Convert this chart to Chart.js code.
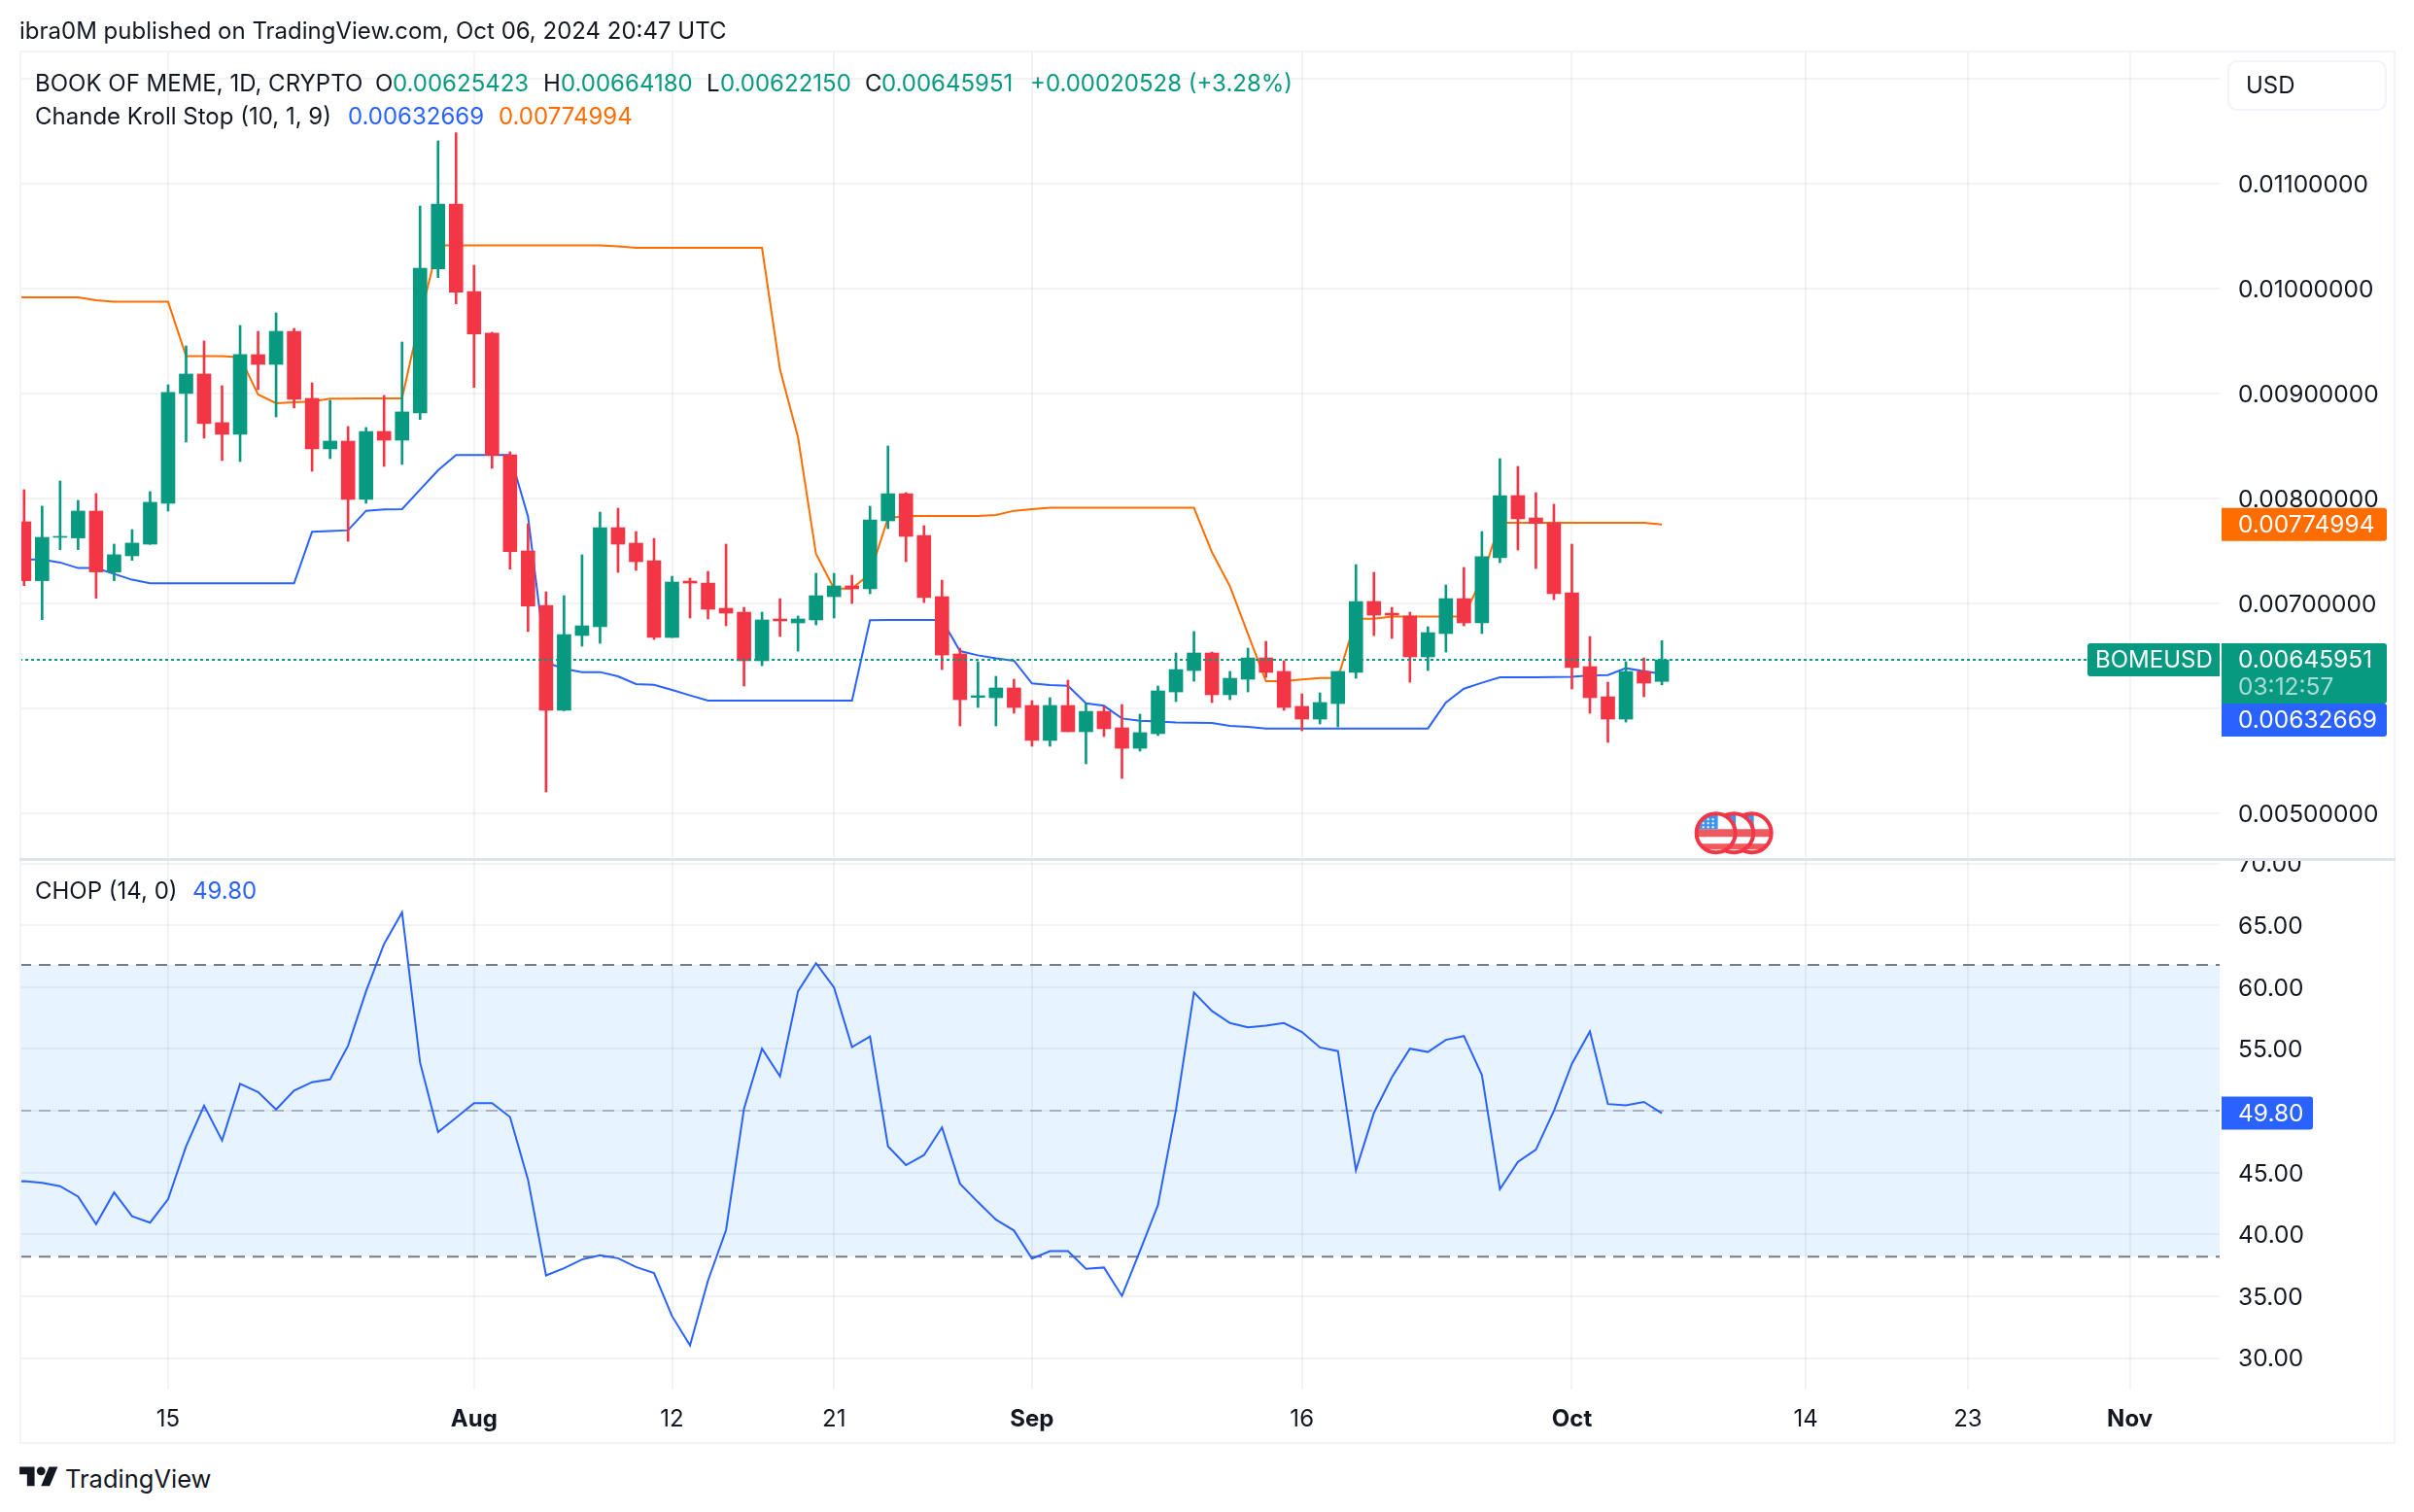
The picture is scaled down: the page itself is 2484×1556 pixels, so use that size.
<!DOCTYPE html>
<html>
<head>
<meta charset="utf-8">
<title>BOME USD</title>
<script src="https://cdn.jsdelivr.net/npm/chart.js"></script>
<style>
    html, body { margin: 0; padding: 0; background: #fff; }
    body { width: 2484px; height: 1556px; position: relative; overflow: hidden; font-family: Inter, "Noto Sans", sans-serif; color: #131722; }
    canvas { position: absolute; left: 0; }
    #topChart { top: 0; }
    #chopChart { top: 886px; }
    .txt { position: absolute; white-space: nowrap; font-size: 24px; line-height: 30px; }
    .box { position: absolute; box-sizing: border-box; }
    .green { color: #089981; }
    .blue { color: #2962ff; }
    .orange { color: #ff6d00; }
</style>
</head>
<body>
<canvas id="topChart" width="2484" height="884"></canvas>
<canvas id="chopChart" width="2484" height="598"></canvas>

<div class="box" style="left:20px;top:52px;width:2445px;height:1434px;border:2px solid #f0f3fa;"></div>
<div class="box" style="left:20px;top:883px;width:2445px;height:3px;background:#e0e3eb;"></div>
<div class="box" style="left:2292px;top:62px;width:164px;height:52px;background:#fff;border:2px solid #f0f3fa;border-radius:10px;"></div>
<svg class="box" style="left:20px;top:1505px;" width="40" height="31" viewBox="0 0 36 28"><path fill="#131722" d="M14 22H7V11H0V4h14v18zM28 22h-8l7.5-18h8L28 22z"/><circle fill="#131722" cx="20" cy="8" r="4"/></svg>

<script>
// Day 5 sits just past the left edge, only the lines coming in from it show.
const barDays = [5,6,7,8,9,10,11,12,13,14,15,16,17,18,19,20,21,22,23,24,25,26,27,28,29,30,31,32,33,34,35,36,37,38,39,40,41,42,43,44,45,46,47,48,49,50,51,52,53,54,55,56,57,58,59,60,61,62,63,64,65,66,67,68,69,70,71,72,73,74,75,76,77,78,79,80,81,82,83,84,85,86,87,88,89,90,91,92,93,94,95,96,97];

const opens = [0.007900,0.007775,0.007214,0.007627,0.007621,0.007877,0.007297,0.007451,0.007562,0.007951,0.008998,0.009183,0.008720,0.008609,0.009368,0.009275,0.009590,0.008951,0.008470,0.008544,0.007988,0.008636,0.008553,0.008812,0.010185,0.010803,0.009969,0.009572,0.008414,0.007497,0.006979,0.005979,0.006692,0.006775,0.007719,0.007571,0.007404,0.006673,0.007210,0.007191,0.006951,0.006914,0.006451,0.006849,0.006812,0.006840,0.007062,0.007164,0.007136,0.007784,0.008043,0.007645,0.007062,0.006516,0.006102,0.006099,0.006192,0.006025,0.005692,0.006025,0.005775,0.005969,0.005812,0.005617,0.005756,0.006154,0.006358,0.006525,0.006127,0.006275,0.006478,0.006349,0.006016,0.005895,0.006043,0.006340,0.007016,0.006904,0.006877,0.006488,0.006710,0.007043,0.006812,0.007432,0.008025,0.007812,0.007766,0.007099,0.006395,0.006108,0.005895,0.006349,0.00625423];
const highs = [0.008000,0.008081,0.007924,0.008164,0.007979,0.008044,0.007562,0.007701,0.008062,0.009081,0.009451,0.009498,0.009072,0.009646,0.009590,0.009766,0.009618,0.009099,0.008933,0.008683,0.008674,0.008979,0.009488,0.010784,0.011404,0.011482,0.010219,0.009581,0.008442,0.007756,0.007108,0.007071,0.007460,0.007867,0.007904,0.007682,0.007617,0.007256,0.007238,0.007303,0.007562,0.006960,0.006914,0.007043,0.006877,0.007284,0.007284,0.007266,0.007923,0.008497,0.008053,0.007738,0.007219,0.006571,0.006442,0.006303,0.006275,0.006071,0.006099,0.006266,0.006043,0.006016,0.006034,0.005942,0.006210,0.006525,0.006729,0.006534,0.006349,0.006571,0.006636,0.006451,0.006136,0.006145,0.006349,0.007367,0.007293,0.006960,0.006914,0.006775,0.007173,0.007340,0.007682,0.008377,0.008303,0.008053,0.007942,0.007562,0.006682,0.006247,0.006442,0.006478,0.0066418];
const lows = [0.007600,0.007167,0.006843,0.007510,0.007510,0.007047,0.007214,0.007408,0.007560,0.007877,0.008535,0.008572,0.008359,0.008349,0.009035,0.008775,0.008859,0.008257,0.008377,0.007590,0.007951,0.008303,0.008322,0.008750,0.010102,0.009852,0.009056,0.008285,0.007324,0.006729,0.005201,0.005975,0.006590,0.006617,0.007293,0.007312,0.006654,0.006673,0.006858,0.006849,0.006784,0.006210,0.006404,0.006682,0.006543,0.006793,0.006858,0.006997,0.007090,0.007710,0.007395,0.007006,0.006367,0.005830,0.006006,0.005830,0.005951,0.005636,0.005636,0.005775,0.005469,0.005729,0.005330,0.005590,0.005738,0.006062,0.006256,0.006053,0.006080,0.006154,0.006293,0.005979,0.005784,0.005849,0.005821,0.006284,0.006691,0.006664,0.006247,0.006358,0.006534,0.006784,0.006710,0.007386,0.007506,0.007330,0.007034,0.006182,0.005951,0.005673,0.005867,0.006108,0.0062215];
const closes = [0.007775,0.007214,0.007627,0.007636,0.007877,0.007297,0.007461,0.007572,0.007961,0.009007,0.009183,0.008711,0.008609,0.009368,0.009275,0.009590,0.008942,0.008470,0.008544,0.007988,0.008636,0.008553,0.008822,0.010191,0.010803,0.009963,0.009565,0.008408,0.007491,0.006972,0.005979,0.006701,0.006784,0.007719,0.007562,0.007395,0.006673,0.007201,0.007191,0.006942,0.006905,0.006451,0.006840,0.006831,0.006849,0.007071,0.007164,0.007136,0.007793,0.008043,0.007636,0.007053,0.006506,0.006080,0.006118,0.006192,0.006006,0.005692,0.006025,0.005775,0.005969,0.005803,0.005617,0.005766,0.006164,0.006367,0.006525,0.006127,0.006284,0.006478,0.006340,0.006006,0.005895,0.006053,0.006349,0.007016,0.006886,0.006886,0.006488,0.006719,0.007043,0.006812,0.007442,0.008025,0.007803,0.007759,0.007090,0.006386,0.006099,0.005895,0.006349,0.006238,0.00645951];

const stopLong = [0.007417,0.007417,0.007417,0.007387,0.007334,0.007334,0.007278,0.007223,0.007189,0.007189,0.007189,0.007189,0.007189,0.007189,0.007189,0.007189,0.007189,0.007680,0.007686,0.007695,0.007880,0.007893,0.007896,0.008081,0.008266,0.008411,0.008411,0.008411,0.008411,0.007824,0.006435,0.006374,0.006343,0.006343,0.006303,0.006229,0.006222,0.006173,0.006121,0.006071,0.006071,0.006071,0.006071,0.006071,0.006071,0.006071,0.006071,0.006071,0.006837,0.006840,0.006840,0.006840,0.006840,0.006543,0.006503,0.006475,0.006451,0.006235,0.006219,0.006213,0.006046,0.006022,0.005901,0.005880,0.005873,0.005864,0.005861,0.005858,0.005830,0.005821,0.005806,0.005806,0.005806,0.005806,0.005806,0.005806,0.005806,0.005806,0.005806,0.005806,0.006053,0.006185,0.006241,0.006293,0.006293,0.006293,0.006296,0.006299,0.006312,0.006315,0.006380,0.006352,0.00632669];
const stopShort = [0.009914,0.009914,0.009914,0.009914,0.009914,0.009886,0.009871,0.009871,0.009871,0.009871,0.009353,0.009353,0.009353,0.009343,0.008988,0.008905,0.008914,0.008920,0.008948,0.008948,0.008951,0.008951,0.008951,0.009720,0.010410,0.010410,0.010410,0.010410,0.010410,0.010410,0.010410,0.010410,0.010410,0.010410,0.010400,0.010386,0.010386,0.010386,0.010386,0.010386,0.010386,0.010386,0.010386,0.009226,0.008580,0.007469,0.007139,0.007139,0.007280,0.007810,0.007830,0.007830,0.007830,0.007830,0.007830,0.007840,0.007880,0.007895,0.007908,0.007908,0.007908,0.007908,0.007908,0.007908,0.007908,0.007908,0.007908,0.007485,0.007161,0.006707,0.006256,0.006256,0.006272,0.006287,0.006287,0.006852,0.006852,0.006871,0.006871,0.006871,0.006871,0.006871,0.007238,0.007766,0.007766,0.007766,0.007766,0.007766,0.007766,0.007766,0.007766,0.007766,0.00774994];

const chopValues = [44.25,44.31,44.17,43.90,43.05,40.82,43.39,41.46,40.95,42.85,47.12,50.41,47.60,52.17,51.51,50.10,51.63,52.31,52.54,55.26,59.66,63.49,66.04,53.90,48.27,49.43,50.61,50.61,49.49,44.41,36.68,37.26,37.97,38.31,38.07,37.36,36.88,33.39,31.02,36.27,40.34,50.17,55.02,52.78,59.66,61.93,59.97,55.15,56.00,47.12,45.60,46.41,48.65,44.10,42.61,41.19,40.31,38.04,38.65,38.65,37.22,37.32,35.02,38.65,42.37,50.07,59.56,58.07,57.09,56.75,56.88,57.09,56.37,55.12,54.82,45.19,49.83,52.71,55.02,54.75,55.73,56.04,52.88,43.66,45.87,46.85,50.00,53.80,56.41,50.54,50.44,50.71,49.80];

const priceTicks = [0.005,0.006,0.007,0.008,0.009,0.010,0.011,0.012];
const hiddenPriceTicks = [0.006,0.012];
const chopTicks = [30,35,40,45,50,55,60,65,70];
const hiddenChopTicks = [50];
const tickDays = [14,31,42,51,62,77,92,105,114,123];
const tickLabels = ['15','Aug','12','21','Sep','16','Oct','14','23','Nov'];
const monthLabels = ['Aug','Sep','Oct','Nov'];
const eventDays = [102,101,100];
const eventLevel = 0.00481;

const lastPrice = 0.00645951;
const lastLong = 0.00632669;
const lastShort = 0.00774994;
const lastChop = 49.80;
const chopUpper = 61.8;
const chopMiddle = 50;
const chopLower = 38.2;

const GREEN = '#089981';
const RED = '#f23645';
const BLUE = '#2962ff';
const ORANGE = '#ff6d00';
const GRID = 'rgba(42,46,57,0.06)';
const FONT = 'Inter, "Noto Sans", sans-serif';
const AXIS_SIZE = 24.5;
const xMin = 5.74;
const xMax = 127.99;

// Header text
function addText(text, x, y, cls, extra) {
    const el = document.createElement('div');
    el.className = 'txt ' + (cls || '');
    el.textContent = text;
    el.style.left = x + 'px';
    el.style.top = (y - 15) + 'px';
    if (extra) Object.assign(el.style, extra);
    document.body.appendChild(el);
}

addText('ibra0M published on TradingView.com, Oct 06, 2024 20:47 UTC', 20, 32);
addText('BOOK OF MEME, 1D, CRYPTO', 36, 86);
addText('O', 386, 86);
addText('0.00625423', 404, 86, 'green');
addText('H', 559, 86);
addText('0.00664180', 577, 86, 'green');
addText('L', 727, 86);
addText('0.00622150', 741, 86, 'green');
addText('C', 890, 86);
addText('0.00645951', 907, 86, 'green');
addText('+0.00020528 (+3.28%)', 1060, 86, 'green');
addText('Chande Kroll Stop (10, 1, 9)', 36, 120);
addText('0.00632669', 358, 120, 'blue');
addText('0.00774994', 513, 120, 'orange');
addText('USD', 2311, 88);
addText('CHOP (14, 0)', 36, 917);
addText('49.80', 198, 917, 'blue');
addText('TradingView', 67, 1522, '', { fontSize: '25.5px' });

// Shared builders
function lineSet(data, color, width, order) {
    return {
        type: 'line',
        data: data,
        borderColor: color,
        borderWidth: width,
        pointRadius: 0,
        tension: 0,
        order: order
    };
}

function xyFor(values) {
    return barDays.map((d, i) => ({ x: d, y: values[i] }));
}

function flatLine(value) {
    return [{ x: xMin, y: value }, { x: xMax, y: value }];
}

function xAxis(showLabels, height) {
    return {
        type: 'linear',
        min: xMin,
        max: xMax,
        offset: false,
        border: { display: false },
        grid: { color: GRID, lineWidth: 2, drawTicks: false, offset: false },
        afterBuildTicks: (axis) => { axis.ticks = tickDays.map(v => ({ value: v })); },
        afterFit: (axis) => {
            axis.height = height;
            axis.paddingLeft = 0;
            axis.paddingRight = 0;
        },
        ticks: {
            display: showLabels,
            autoSkip: false,
            maxRotation: 0,
            padding: 16,
            color: '#131722',
            font: (ctx) => ({ family: FONT, size: 24, weight: monthLabels.includes(tickLabels[ctx.index]) ? '700' : '400' }),
            callback: (v, i) => tickLabels[i]
        }
    };
}

function yAxis(min, max, tickValues, hidden, digits) {
    return {
        position: 'right',
        min: min,
        max: max,
        beginAtZero: false,
        border: { display: false },
        grid: { color: GRID, lineWidth: 2, drawTicks: false },
        afterBuildTicks: (axis) => { axis.ticks = tickValues.map(v => ({ value: v })); },
        afterFit: (axis) => {
            axis.width = 200;
            // no room reserved for half labels, the pane runs edge to edge
            axis.paddingTop = 0;
            axis.paddingBottom = 0;
        },
        ticks: {
            autoSkip: false,
            crossAlign: 'near',
            padding: 19,
            labelOffset: 1.5,
            color: '#131722',
            font: { family: FONT, size: AXIS_SIZE },
            callback: (v) => hidden.includes(v) ? '' : v.toFixed(digits)
        }
    };
}

function drawTag(ctx, left, top, width, height, color, corners) {
    ctx.fillStyle = color;
    ctx.beginPath();
    ctx.roundRect(left, top, width, height, corners);
    ctx.fill();
}

// Coloured value tags on the price axis
const priceTags = {
    id: 'priceTags',
    afterDraw(chart) {
        const { ctx, scales } = chart;
        const left = 2286, width = 170, textX = 2303;
        ctx.save();
        ctx.font = AXIS_SIZE + 'px ' + FONT;
        ctx.textBaseline = 'middle';
        ctx.textAlign = 'left';

        const shortY = scales.y.getPixelForValue(lastShort);
        drawTag(ctx, left, shortY - 17, width, 34, ORANGE, [0, 3, 3, 0]);
        ctx.fillStyle = '#fff';
        ctx.fillText(lastShort.toFixed(8), textX, shortY + 1);

        const priceY = scales.y.getPixelForValue(lastPrice);
        const priceTop = priceY - 17;
        drawTag(ctx, 2148, priceTop, 136, 34, GREEN, [3, 0, 0, 3]);
        ctx.fillStyle = '#fff';
        ctx.font = '24px ' + FONT;
        ctx.fillText('BOMEUSD', 2156, priceY + 1);
        ctx.font = AXIS_SIZE + 'px ' + FONT;
        drawTag(ctx, left, priceTop, width, 62, GREEN, [0, 3, 3, 0]);
        ctx.fillStyle = '#fff';
        ctx.fillText(lastPrice.toFixed(8), textX, priceY + 1);
        ctx.fillStyle = 'rgba(255,255,255,0.65)';
        ctx.fillText('03:12:57', textX, priceY + 29);

        // the long stop tag gets pushed down under the price tag
        const longTop = Math.max(scales.y.getPixelForValue(lastLong) - 17, priceTop + 62);
        drawTag(ctx, left, longTop, width, 34, BLUE, [0, 3, 3, 0]);
        ctx.fillStyle = '#fff';
        ctx.fillText(lastLong.toFixed(8), textX, longTop + 18);
        ctx.restore();
    }
};

// US economic event badges
const eventBadges = {
    id: 'eventBadges',
    afterDatasetsDraw(chart) {
        const { ctx, scales } = chart;
        const r = 20;
        eventDays.forEach(day => {
            const cx = scales.x.getPixelForValue(day);
            const cy = scales.y.getPixelForValue(eventLevel);
            ctx.save();
            ctx.beginPath();
            ctx.arc(cx, cy, r, 0, Math.PI * 2);
            ctx.fillStyle = '#fff';
            ctx.fill();
            ctx.clip();
            ctx.fillStyle = '#f05a5f';
            ctx.fillRect(cx - r, cy - 4, r * 2, 8);
            ctx.fillRect(cx - r, cy + 11, r * 2, 6);
            ctx.fillStyle = '#3d94f0';
            ctx.fillRect(cx - r, cy - r, r + 2, r - 4);
            ctx.fillStyle = '#fff';
            for (let row = 0; row < 3; row++) {
                for (let col = 0; col < 3; col++) {
                    ctx.fillRect(cx - 14 + col * 5, cy - 15 + row * 4, 2, 2);
                }
            }
            ctx.restore();
            ctx.beginPath();
            ctx.arc(cx, cy, r, 0, Math.PI * 2);
            ctx.strokeStyle = RED;
            ctx.lineWidth = 4;
            ctx.stroke();
        });
    }
};

const chopTag = {
    id: 'chopTag',
    afterDraw(chart) {
        const { ctx, scales } = chart;
        const y = scales.y.getPixelForValue(lastChop);
        ctx.save();
        drawTag(ctx, 2286, y - 17, 94, 34, BLUE, [0, 3, 3, 0]);
        ctx.fillStyle = '#fff';
        ctx.font = AXIS_SIZE + 'px ' + FONT;
        ctx.textBaseline = 'middle';
        ctx.fillText(lastChop.toFixed(2), 2303, y + 1);
        ctx.restore();
    }
};

const candleColors = barDays.map((d, i) => closes[i] >= opens[i] ? GREEN : RED);

// Price pane: wicks and bodies are two floating bar sets
new Chart(document.getElementById('topChart'), {
    type: 'bar',
    data: {
        datasets: [
            {
                ...lineSet(flatLine(lastPrice), GREEN, 2, 0),
                borderDash: [3, 3]
            },
            {
                type: 'bar',
                data: barDays.map((d, i) => ({ x: d, y: [opens[i], closes[i]] })),
                backgroundColor: candleColors,
                barThickness: 14,
                grouped: false,
                order: 1
            },
            {
                type: 'bar',
                data: barDays.map((d, i) => ({ x: d, y: [lows[i], highs[i]] })),
                backgroundColor: candleColors,
                barThickness: 2,
                grouped: false,
                order: 2
            },
            lineSet(xyFor(stopLong), BLUE, 2, 3),
            lineSet(xyFor(stopShort), ORANGE, 2, 4)
        ]
    },
    options: {
        responsive: false,
        animation: false,
        devicePixelRatio: 1,
        layout: { autoPadding: false, padding: { left: 20, top: 54, right: 0, bottom: 0 } },
        plugins: { legend: { display: false }, tooltip: { enabled: false } },
        scales: {
            x: xAxis(false, 0),
            y: yAxis(0.004562, 0.012247, priceTicks, hiddenPriceTicks, 8)
        }
    },
    plugins: [eventBadges, priceTags]
});

// Choppiness pane
new Chart(document.getElementById('chopChart'), {
    type: 'line',
    data: {
        datasets: [
            {
                ...lineSet(flatLine(chopUpper), '#787b86', 2, 3),
                borderDash: [12, 8],
                fill: { target: { value: chopLower }, above: 'rgba(33,150,243,0.11)' }
            },
            {
                ...lineSet(flatLine(chopMiddle), 'rgba(120,123,134,0.5)', 2, 2),
                borderDash: [12, 8]
            },
            {
                ...lineSet(flatLine(chopLower), '#787b86', 2, 2),
                borderDash: [12, 8]
            },
            lineSet(xyFor(chopValues), BLUE, 2, 0)
        ]
    },
    options: {
        responsive: false,
        animation: false,
        devicePixelRatio: 1,
        layout: { autoPadding: false, padding: { left: 20, top: 0, right: 0, bottom: 0 } },
        plugins: { legend: { display: false }, tooltip: { enabled: false } },
        scales: {
            x: xAxis(true, 54),
            y: yAxis(27.45, 70.2, chopTicks, hiddenChopTicks, 2)
        }
    },
    plugins: [chopTag]
});
</script>
</body>
</html>
